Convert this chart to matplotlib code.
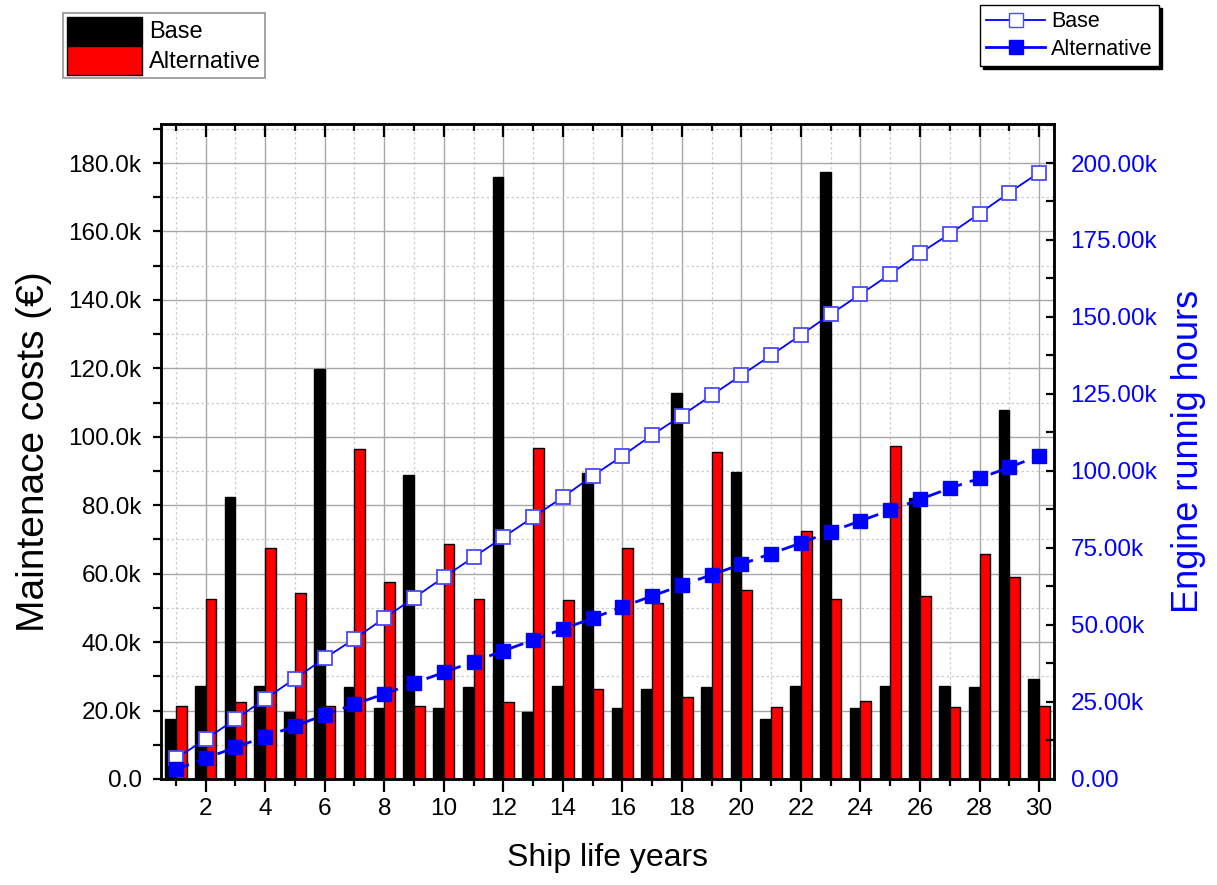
import numpy as np
import matplotlib
matplotlib.use("Agg")
import matplotlib.pyplot as plt
from matplotlib.ticker import MultipleLocator, FuncFormatter
from matplotlib.patches import Patch
from matplotlib.lines import Line2D

plt.rcParams['font.family'] = ['Liberation Sans', 'DejaVu Sans']

# Ship life years
years = np.arange(1, 31)

# Maintenance costs (thousand EUR)
cost_base = [17.4, 27.3, 82.5, 27.3, 19.7, 119.8, 26.8, 20.8, 88.7, 20.8,
             26.8, 175.8, 19.7, 27.3, 89.3, 20.8, 26.3, 112.7, 26.8, 89.8,
             17.5, 27.3, 177.3, 20.8, 27.3, 82.0, 27.3, 26.8, 107.8, 29.1]
cost_alt = [21.4, 52.7, 22.6, 67.5, 54.2, 21.4, 96.3, 57.6, 21.4, 68.8,
            52.7, 22.6, 96.7, 52.3, 26.2, 67.4, 51.5, 23.9, 95.5, 55.2,
            21.1, 72.4, 52.6, 22.9, 97.3, 53.6, 21.1, 65.7, 59.1, 21.4]

# Engine running hours (thousand h)
hours_base = [6.7, 12.9, 19.4, 26.0, 32.6, 39.2, 45.5, 52.2, 58.8, 65.5,
              72.0, 78.5, 85.0, 91.5, 98.4, 104.9, 111.7, 118.0, 124.6, 131.1,
              137.6, 144.2, 150.9, 157.4, 163.9, 170.7, 177.0, 183.6, 190.4, 196.9]
hours_alt = [3.1, 6.7, 10.3, 13.7, 17.2, 20.8, 24.3, 27.6, 31.1, 34.6,
             38.1, 41.6, 45.1, 48.7, 52.2, 55.9, 59.4, 62.9, 66.3, 69.7,
             73.2, 76.6, 80.3, 83.8, 87.3, 90.8, 94.4, 97.6, 101.2, 104.9]

fig = plt.figure(figsize=(12.17, 8.85), dpi=100)
ax = fig.add_axes([0.1323, 0.1198, 0.7337, 0.7401])

w = 0.36
ax.bar(years - w / 2, cost_base, width=w, color='black', edgecolor='black', linewidth=1, zorder=2)
ax.bar(years + w / 2, cost_alt, width=w, color='#ff0000', edgecolor='black', linewidth=1, zorder=2)

ax.set_xlim(0.5, 30.5)
ax.set_ylim(0, 191.4)
ax.xaxis.set_major_locator(MultipleLocator(2))
ax.xaxis.set_minor_locator(MultipleLocator(1))
ax.yaxis.set_major_locator(MultipleLocator(20))
ax.yaxis.set_minor_locator(MultipleLocator(10))
ax.yaxis.set_major_formatter(FuncFormatter(lambda v, p: "0.0" if v == 0 else f"{v:.1f}k"))

ax.grid(which='major', color='#a8a8a8', linestyle='-', linewidth=1.0)
ax.grid(which='minor', color='#cccccc', linestyle=(0, (2, 2)), linewidth=0.9)
ax.set_axisbelow(True)

ax.tick_params(which='both', direction='out', labelsize=17.5, width=1.6)
ax.tick_params(axis='y', which='both', length=6, pad=8)
ax.tick_params(axis='x', which='major', length=9, pad=5)
ax.tick_params(axis='x', which='minor', length=5)
for s in ax.spines.values():
    s.set_linewidth(1.8)

ax.set_xlabel("Ship life years", fontsize=23, labelpad=16)
ax.set_ylabel("Maintenace costs (€)", fontsize=28, labelpad=12)

ax2 = ax.twinx()
ax2.plot(years, hours_base, color='blue', linewidth=1.3, linestyle='-',
         marker='s', markersize=10.5, markerfacecolor='white', markeredgecolor='#4a4aff',
         markeredgewidth=1.3, zorder=3)
ax2.plot(years, hours_alt, color='blue', linewidth=2, linestyle=(0, (5, 3)),
         marker='s', markersize=9.5, markerfacecolor='blue', markeredgecolor='blue', zorder=3)
ax2.set_ylim(0, 191.4 * 200 / 180)
ax2.yaxis.set_major_locator(MultipleLocator(25))
ax2.yaxis.set_minor_locator(MultipleLocator(12.5))
ax2.yaxis.set_major_formatter(FuncFormatter(lambda v, p: "0.00" if v == 0 else f"{v:.2f}k"))
ax2.tick_params(axis='y', which='both', direction='in', labelsize=17.5, labelcolor='blue',
                width=1.6, length=6, pad=12)
ax2.set_ylabel("Engine runnig hours", fontsize=26, color='blue', labelpad=10)

# top ticks pointing inward
ax2.xaxis.set_visible(True)
ax2.tick_params(axis='x', which='both', direction='in', bottom=False, top=True,
                labelbottom=False, labeltop=False, width=1.6)
ax2.tick_params(axis='x', which='major', length=9)
ax2.tick_params(axis='x', which='minor', length=5)
for s in ax2.spines.values():
    s.set_linewidth(1.8)

# legends
bar_handles = [Patch(facecolor='black', edgecolor='black'),
               Patch(facecolor='#ff0000', edgecolor='black')]
leg1 = fig.legend(bar_handles, ['Base', 'Alternative'], loc='upper left',
                  bbox_to_anchor=(63 / 1217, 1 - 13 / 885), fontsize=17,
                  frameon=True, fancybox=False, shadow=False, edgecolor='#777777',
                  handlelength=3.2, handleheight=1.45, labelspacing=0.08,
                  borderpad=0.15, handletextpad=0.3, borderaxespad=0)
leg1.get_frame().set_linewidth(1.2)

line_handles = [Line2D([], [], color='blue', lw=1.3, marker='s', markersize=10,
                       markerfacecolor='white', markeredgecolor='#4a4aff'),
                Line2D([], [], color='blue', lw=2, marker='s', markersize=10,
                       markerfacecolor='blue', markeredgecolor='blue')]
leg2 = fig.legend(line_handles, ['Base', 'Alternative'], loc='upper left',
                  bbox_to_anchor=(980 / 1217, 1 - 5 / 885), fontsize=15.5,
                  frameon=True, fancybox=False, shadow={'color': 'black', 'alpha': 1},
                  edgecolor='black', handlelength=2.7, labelspacing=0.3,
                  borderpad=0.3, handletextpad=0.3, borderaxespad=0)
leg2.get_frame().set_linewidth(1.0)

fig.savefig("out.png", dpi=100)
